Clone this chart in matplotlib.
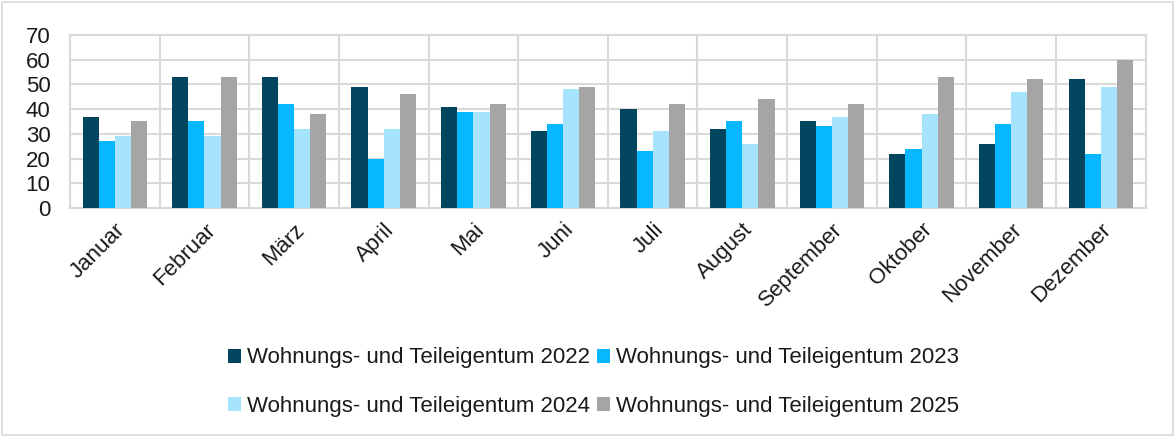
import matplotlib
matplotlib.use("Agg")
import matplotlib.pyplot as plt
import numpy as np
from matplotlib.patches import Rectangle, Patch

months = ["Januar", "Februar", "März", "April", "Mai", "Juni", "Juli",
          "August", "September", "Oktober", "November", "Dezember"]
series_names = ["Wohnungs- und Teileigentum 2022", "Wohnungs- und Teileigentum 2023",
                "Wohnungs- und Teileigentum 2024", "Wohnungs- und Teileigentum 2025"]
v2022 = [37, 53, 53, 49, 41, 31, 40, 32, 35, 22, 26, 52]
v2023 = [27, 35, 42, 20, 39, 34, 23, 35, 33, 24, 34, 22]
v2024 = [29, 29, 32, 32, 39, 48, 31, 26, 37, 38, 47, 49]
v2025 = [35, 53, 38, 46, 42, 49, 42, 44, 42, 53, 52, 60]
yticks = [0, 10, 20, 30, 40, 50, 60, 70]

colors = ["#02455f", "#08b8ff", "#a6e3fd", "#a5a5a5"]

plt.rcParams['font.family'] = ['Liberation Sans', 'DejaVu Sans']

fig = plt.figure(figsize=(11.75, 4.37), dpi=100)
ax = fig.add_axes([0.0596, 0.524, 0.9154, 0.396])

x = np.arange(len(months))
w = 0.18
data = [v2022, v2023, v2024, v2025]
for i, (vals, c, name) in enumerate(zip(data, colors, series_names)):
    ax.bar(x + (i - 1.5) * w, vals, width=w, color=c, label=name, zorder=3)

ax.set_xlim(-0.5, len(months) - 0.5)
ax.set_ylim(0, 70)
ax.set_yticks(yticks)
ax.set_yticklabels([str(t) for t in yticks], fontsize=16, color="#1a1a1a")
ax.set_xticks(x)
ax.set_xticklabels(months, rotation=45, ha="right", rotation_mode="anchor",
                   fontsize=16, color="#1a1a1a")
ax.tick_params(axis="y", length=0, pad=14)
ax.tick_params(axis="x", length=0, pad=8)

# grid
ax.yaxis.grid(True, color="#d9d9d9", linewidth=1.5, zorder=0)
for b in np.arange(-0.5, len(months) + 0.5, 1.0):
    ax.axvline(b, color="#d9d9d9", linewidth=1.5, zorder=0)
for s in ax.spines.values():
    s.set_color("#d9d9d9")
    s.set_linewidth(1.5)

handles = [Patch(facecolor=c, edgecolor="none") for c in colors]
order = [0, 2, 1, 3]
fig.legend([handles[k] for k in order], [series_names[k] for k in order],
           loc="center", bbox_to_anchor=(0.505, 0.125), ncol=2,
           frameon=False, fontsize=16, handlelength=0.6, handleheight=0.6,
           handletextpad=0.25, columnspacing=0.3, labelspacing=1.25,
           labelcolor="#1a1a1a")

fig.patches.append(Rectangle((0.002, 0.004), 0.996, 0.992, transform=fig.transFigure,
                             fill=False, edgecolor="#d9d9d9", linewidth=1.2))

fig.savefig("out.png", dpi=100)
